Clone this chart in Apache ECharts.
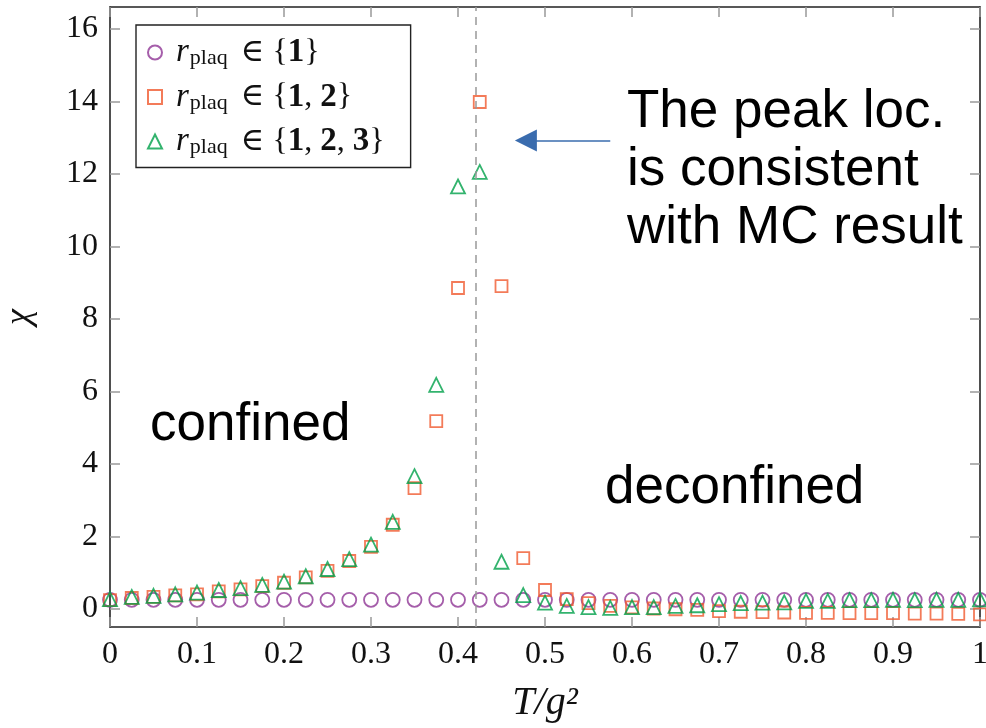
<!DOCTYPE html>
<html>
<head>
<meta charset="utf-8">
<script src="https://cdn.jsdelivr.net/npm/echarts@6/dist/echarts.min.js"></script>
<style>
  html, body { margin: 0; padding: 0; background: #fff; }
  #chart { width: 986px; height: 728px; }
</style>
</head>
<body>
<div id="chart"></div>
<script>
'use strict';

// T/g^2 sample points
var temps = [0, 0.025, 0.05, 0.075, 0.1, 0.125, 0.15, 0.175, 0.2, 0.225,
  0.25, 0.275, 0.3, 0.325, 0.35, 0.375, 0.4, 0.425, 0.45, 0.475,
  0.5, 0.525, 0.55, 0.575, 0.6, 0.625, 0.65, 0.675, 0.7, 0.725,
  0.75, 0.775, 0.8, 0.825, 0.85, 0.875, 0.9, 0.925, 0.95, 0.975, 1];

// chi for r_plaq in {1}
var chi1 = [0.25, 0.25, 0.25, 0.25, 0.25, 0.25, 0.25, 0.25, 0.25, 0.25,
  0.25, 0.25, 0.25, 0.25, 0.25, 0.25, 0.25, 0.25, 0.25, 0.25,
  0.25, 0.25, 0.25, 0.25, 0.25, 0.25, 0.25, 0.25, 0.25, 0.25,
  0.25, 0.25, 0.25, 0.25, 0.25, 0.25, 0.25, 0.25, 0.25, 0.25, 0.25];

// chi for r_plaq in {1,2}
var chi12 = [0.24, 0.30, 0.33, 0.37, 0.40, 0.48, 0.54, 0.63, 0.72, 0.87,
  1.05, 1.32, 1.71, 2.32, 3.33, 5.18, 8.85, 13.98, 8.9, 1.4,
  0.52, 0.27, 0.16, 0.08, 0.04, 0.01, -0.01, -0.03, -0.06, -0.08,
  -0.09, -0.1, -0.11, -0.11, -0.12, -0.12, -0.12, -0.13, -0.13, -0.14, -0.15];

// chi for r_plaq in {1,2,3}
var chi123 = [0.27, 0.33, 0.36, 0.40, 0.45, 0.52, 0.57, 0.66, 0.75, 0.9,
  1.1, 1.37, 1.77, 2.4, 3.66, 6.18, 11.65, 12.05, 1.3, 0.38,
  0.17, 0.08, 0.05, 0.03, 0.05, 0.05, 0.08, 0.1, 0.13, 0.16,
  0.17, 0.18, 0.22, 0.22, 0.24, 0.24, 0.25, 0.24, 0.25, 0.25, 0.26];

var xTicks = [0, 0.1, 0.2, 0.3, 0.4, 0.5, 0.6, 0.7, 0.8, 0.9, 1];
var yTicks = [0, 2, 4, 6, 8, 10, 12, 14, 16];

var mcPeak = 0.424;   // MC peak location
var arrowFrom = [0.575, 12.92];
var arrowTo = [0.478, 12.92];

var serif = '"Liberation Serif", "DejaVu Serif", serif';
var sans = '"Liberation Sans", Arial, sans-serif';

function pairs(ys) {
  var out = [];
  for (var i = 0; i < temps.length; i++) {
    out.push([temps[i], ys[i]]);
  }
  return out;
}

var legendText = {
  r1: '{i|r}{s|plaq} ∈ {{b|1}}',
  r12: '{i|r}{s|plaq} ∈ {{b|1}, {b|2}}',
  r123: '{i|r}{s|plaq} ∈ {{b|1}, {b|2}, {b|3}}'
};

var chart = echarts.init(document.getElementById('chart'));

var axisLine = { show: true, onZero: false, lineStyle: { color: '#222', width: 1.6 } };
var tickStyle = { color: '#999', width: 1.5 };

var option = {
  backgroundColor: '#ffffff',
  animation: false,
  grid: { left: 110, right: 6, top: 7, bottom: 101, containLabel: false, outerBoundsMode: 'none' },
  legend: {
    orient: 'vertical',
    left: 136,
    top: 25,
    padding: [11, 26, 9, 11],
    itemGap: 11,
    itemWidth: 14,
    itemHeight: 14,
    borderColor: '#222',
    borderWidth: 1.4,
    borderRadius: 0,
    backgroundColor: '#fff',
    data: ['r1', 'r12', 'r123'],
    formatter: function (name) { return legendText[name]; },
    textStyle: {
      fontFamily: serif,
      fontSize: 32,
      color: '#111',
      padding: [0, 0, 0, 9],
      rich: {
        i: { fontFamily: serif, fontStyle: 'italic', fontSize: 33, color: '#111' },
        s: { fontFamily: serif, fontSize: 22, color: '#111', padding: [12, 5, 0, 1] },
        b: { fontFamily: serif, fontWeight: 'bold', fontSize: 33, color: '#111' }
      }
    }
  },
  xAxis: [{
    type: 'value',
    min: 0,
    max: 1,
    name: 'T/g²',
    nameLocation: 'middle',
    nameGap: 56,
    nameTextStyle: { fontFamily: serif, fontStyle: 'italic', fontSize: 40, color: '#111' },
    axisLine: axisLine,
    axisTick: { show: true, inside: true, length: 10, customValues: xTicks, lineStyle: tickStyle },
    axisLabel: { customValues: xTicks, margin: 12, fontFamily: serif, fontSize: 32, color: '#111' },
    splitLine: { show: false }
  }, {
    type: 'value',
    min: 0,
    max: 1,
    position: 'top',
    axisLine: axisLine,
    axisTick: { show: true, inside: true, length: 10, customValues: xTicks, lineStyle: tickStyle },
    axisLabel: { show: false },
    splitLine: { show: false }
  }],
  yAxis: [{
    type: 'value',
    min: -0.5,
    max: 16.6,
    name: 'χ',
    nameLocation: 'middle',
    nameRotate: 90,
    nameGap: 72,
    nameTextStyle: { fontFamily: serif, fontStyle: 'italic', fontSize: 36, color: '#111' },
    axisLine: axisLine,
    axisTick: { show: true, inside: true, length: 10, customValues: yTicks, lineStyle: tickStyle },
    axisLabel: { customValues: yTicks, margin: 12, fontFamily: serif, fontSize: 32, color: '#111' },
    splitLine: { show: false }
  }, {
    type: 'value',
    min: -0.5,
    max: 16.6,
    position: 'right',
    axisLine: axisLine,
    axisTick: { show: true, inside: true, length: 10, customValues: yTicks, lineStyle: tickStyle },
    axisLabel: { show: false },
    splitLine: { show: false }
  }],
  series: [{
    name: 'r1',
    type: 'scatter',
    symbol: 'circle',
    symbolSize: 14,
    itemStyle: { color: 'transparent', borderColor: '#8e3695', borderWidth: 1.8 },
    data: pairs(chi1),
    markLine: {
      silent: true,
      symbol: 'none',
      label: { show: false },
      lineStyle: { color: '#999', width: 1.5, type: [8, 6] },
      data: [{ xAxis: mcPeak }]
    }
  }, {
    name: 'r12',
    type: 'scatter',
    symbol: 'rect',
    symbolSize: 12,
    itemStyle: { color: 'transparent', borderColor: '#f05a30', borderWidth: 1.8 },
    data: pairs(chi12)
  }, {
    name: 'r123',
    type: 'scatter',
    symbol: 'triangle',
    symbolSize: 14,
    itemStyle: { color: 'transparent', borderColor: '#00a04a', borderWidth: 1.8 },
    data: pairs(chi123),
    markLine: {
      silent: true,
      symbol: ['none', 'triangle'],
      symbolSize: [22, 22],
      label: { show: false },
      lineStyle: { color: '#3a6cae', width: 1.5, type: 'solid' },
      data: [[{ coord: arrowFrom }, { coord: arrowTo }]]
    }
  }],
  graphic: [
    { type: 'text', left: 627, top: 83, style: { text: 'The peak loc.\nis consistent\nwith MC result', font: '53px ' + sans, lineHeight: 58, fill: '#000' } },
    { type: 'text', left: 150, top: 399, style: { text: 'confined', font: '53px ' + sans, fill: '#000' } },
    { type: 'text', left: 605, top: 462, style: { text: 'deconfined', font: '53px ' + sans, fill: '#000' } }
  ]
};

chart.setOption(option);
</script>
</body>
</html>
